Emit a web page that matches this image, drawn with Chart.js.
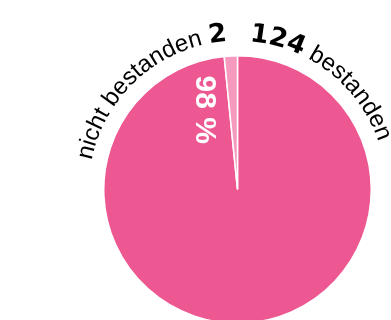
<!DOCTYPE html>
<html>
<head>
<meta charset="utf-8">
<script src="https://cdn.jsdelivr.net/npm/chart.js@4/dist/chart.umd.min.js"></script>
<style>
  html, body { margin: 0; padding: 0; background: #ffffff; }
  #wrap { width: 391px; height: 320px; overflow: hidden; position: relative; }
  canvas { display: block; }
</style>
</head>
<body>
<div id="wrap"><canvas id="c" width="391" height="324"></canvas></div>
<script>
// ---- data ----
const categories = ['bestanden', 'nicht bestanden'];
const values = [124, 2];
const sliceColors = ['#EE5892', '#F59ABE'];

const total = values.reduce((a, b) => a + b, 0);
const pctLabel = Math.round(values[0] / total * 100) + ' %';

const NORMAL = '24px "Liberation Sans", Arial, sans-serif';
const BOLD = 'bold 26px "DejaVu Sans", sans-serif';

function arcText(ctx, cx, cy, r, startPhi, segments) {
  let phi = startPhi;
  segments.forEach(seg => {
    ctx.font = seg.font;
    for (const ch of seg.text) {
      const w = ctx.measureText(ch).width;
      const mid = phi + (w / 2) / r;
      ctx.save();
      ctx.translate(cx + r * Math.sin(mid), cy - r * Math.cos(mid));
      ctx.rotate(mid);
      ctx.textAlign = 'center';
      ctx.textBaseline = 'alphabetic';
      ctx.fillStyle = '#000000';
      ctx.fillText(ch, 0, 0);
      ctx.restore();
      phi += w / r;
    }
  });
}
function arcLength(ctx, segments) {
  let L = 0;
  segments.forEach(seg => {
    ctx.font = seg.font;
    for (const ch of seg.text) L += ctx.measureText(ch).width;
  });
  return L;
}

const labelPlugin = {
  id: 'arcLabels',
  afterDraw(chart) {
    const ctx = chart.ctx;
    const meta = chart.getDatasetMeta(0);
    const big = meta.data[0], small = meta.data[1];
    const cx = big.x, cy = big.y, R = big.outerRadius;
    const rText = R + 15;
    const rightSegs = [
      { text: String(values[0]), font: BOLD },
      { text: ' ' + categories[0], font: NORMAL }
    ];
    const bigStartPhi = big.startAngle + Math.PI / 2;
    arcText(ctx, cx, cy, rText, bigStartPhi + 12 / rText, rightSegs);
    const leftSegs = [
      { text: categories[1] + ' ', font: NORMAL },
      { text: String(values[1]), font: BOLD }
    ];
    const smallEndPhi = small.endAngle + Math.PI / 2 - 2 * Math.PI;
    const L = arcLength(ctx, leftSegs);
    arcText(ctx, cx, cy, rText, smallEndPhi - 10 / rText - L / rText, leftSegs);
    const phiP = -22.5 * Math.PI / 180;
    const rp = R * 0.645;
    ctx.save();
    ctx.translate(cx + rp * Math.sin(phiP), cy - rp * Math.cos(phiP));
    ctx.rotate(Math.PI / 2);
    ctx.font = 'bold 30px "Liberation Sans", Arial, sans-serif';
    ctx.fillStyle = '#ffffff';
    ctx.textAlign = 'center';
    ctx.textBaseline = 'middle';
    ctx.fillText(pctLabel, 0, 0);
    ctx.restore();
  }
};

new Chart(document.getElementById('c'), {
  type: 'pie',
  data: {
    labels: categories,
    datasets: [{
      data: values,
      backgroundColor: sliceColors,
      borderColor: '#ffffff',
      borderWidth: 1.5
    }]
  },
  options: {
    responsive: false,
    animation: false,
    layout: { padding: { left: 103, right: 19, top: 55, bottom: 0 } },
    plugins: { legend: { display: false }, tooltip: { enabled: false } }
  },
  plugins: [labelPlugin]
});
</script>
</body>
</html>
